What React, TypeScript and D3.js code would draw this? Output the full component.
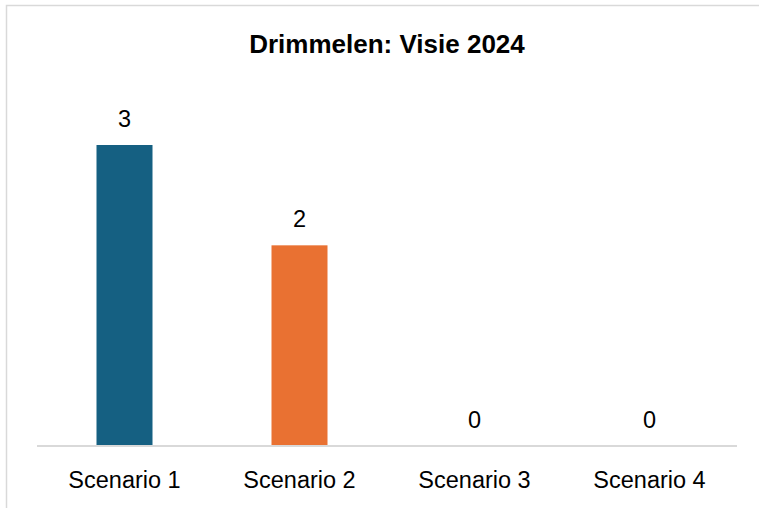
import React from "react";
import * as d3 from "d3";

const categories = ["Scenario 1", "Scenario 2", "Scenario 3", "Scenario 4"];
const values = [3, 2, 0, 0];
const colors = ["#156082", "#E97132", "#0F9ED5", "#A02B93"];
const title = "Drimmelen: Visie 2024";

export default function App() {
  const W = 759, H = 508;
  const plotLeft = 37, plotRight = 737, plotBottom = 446, plotTop = 145;
  const x = d3.scaleBand<string>().domain(categories).range([plotLeft, plotRight]).paddingInner(0.68).paddingOuter(0.34);
  const y = d3.scaleLinear().domain([0, 3]).range([plotBottom, plotTop]);
  const font = "'Liberation Sans', Arial, sans-serif";
  return (
    <svg width={W} height={H} style={{ position: "fixed", left: 0, top: 0, background: "#fff" }}>
      <rect x={6.5} y={5.5} width={770} height={520} fill="#fff" stroke="#d9d9d9" strokeWidth={1.5} />
      <text x={387} y={53} textAnchor="middle" fontFamily={font} fontWeight="bold" fontSize={26} fill="#000">{title}</text>
      {categories.map((c, i) => (
        <g key={c}>
          <rect x={x(c)} y={y(values[i])} width={x.bandwidth()} height={plotBottom - y(values[i])} fill={colors[i]} />
          <text x={(x(c) as number) + x.bandwidth() / 2} y={y(values[i]) - 18} textAnchor="middle" fontFamily={font} fontSize={23.5} fill="#000">{values[i]}</text>
          <text x={(x(c) as number) + x.bandwidth() / 2} y={488} textAnchor="middle" fontFamily={font} fontSize={23.5} fill="#000">{c}</text>
        </g>
      ))}
      <line x1={plotLeft} x2={plotRight} y1={plotBottom} y2={plotBottom} stroke="#d9d9d9" strokeWidth={2} />
    </svg>
  );
}
